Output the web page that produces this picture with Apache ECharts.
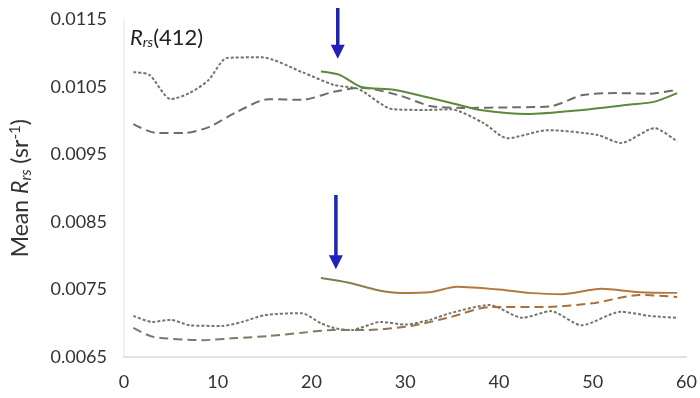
<!DOCTYPE html>
<html>
<head>
<meta charset="utf-8">
<script src="https://cdn.jsdelivr.net/npm/echarts@6/dist/echarts.min.js"></script>
<style>html,body{margin:0;padding:0;background:#fff;}#c{width:700px;height:398px;}</style>
</head>
<body>
<div id="c"></div>
<script>
// x ticks
const xTicks = [0, 10, 20, 30, 40, 50, 60];
const yTicks = [0.0065, 0.0075, 0.0085, 0.0095, 0.0105, 0.0115];

// upper group (green)
const upSolidX = [21, 23, 25.3, 28.8, 32.6, 35, 38, 43, 48.9, 54, 56.5, 59];
const upSolidY = [0.01073, 0.01068, 0.01050, 0.01046, 0.01034, 0.01026, 0.01016, 0.01010, 0.01016, 0.01024, 0.01028, 0.01041];
const upDashX = [1, 3.4, 6.6, 9.1, 11.9, 15.4, 19, 22.4, 25.3, 29.5, 32.6, 36, 41.9, 45.4, 48.9, 52.5, 56, 59];
const upDashY = [0.00995, 0.00982, 0.00982, 0.00991, 0.01012, 0.01032, 0.01031, 0.01043, 0.01049, 0.01037, 0.01022, 0.01019, 0.01020, 0.01021, 0.01038, 0.01041, 0.01040, 0.01046];
const upDotX = [1, 2.7, 5, 7, 9, 11, 14.7, 19, 22.4, 25, 28.7, 32.4, 34.8, 38.3, 40.9, 45.2, 50.5, 53, 56.6, 59];
const upDotY = [0.01072, 0.01068, 0.01032, 0.01041, 0.01060, 0.01093, 0.01094, 0.01072, 0.01053, 0.01047, 0.01017, 0.01016, 0.01017, 0.00997, 0.00974, 0.00986, 0.00979, 0.00967, 0.00989, 0.00969];

// lower group (orange)
const loSolidX = [21, 24, 27.1, 29.5, 32.6, 35.5, 40.7, 43.2, 46.7, 50.9, 55, 59];
const loSolidY = [0.00767, 0.00760, 0.00749, 0.00745, 0.00746, 0.00754, 0.00749, 0.00745, 0.00743, 0.00751, 0.00746, 0.00745];
const loDashX = [1, 3.1, 8.4, 11.9, 15.4, 19, 22.4, 26, 30.6, 34.8, 39, 45, 50.2, 55, 59];
const loDashY = [0.00693, 0.00680, 0.00675, 0.00678, 0.00681, 0.00686, 0.00690, 0.00690, 0.00696, 0.00709, 0.00724, 0.00724, 0.00730, 0.00742, 0.00739];
const loDotX = [1, 3, 5, 7, 10.5, 12.6, 15, 18.9, 21, 22.4, 24.2, 27.4, 30, 32.6, 34.8, 39, 42.5, 45.5, 48.8, 53, 56, 59];
const loDotY = [0.00711, 0.00702, 0.00705, 0.00697, 0.00696, 0.00702, 0.00712, 0.00715, 0.00700, 0.00693, 0.00690, 0.00702, 0.00698, 0.00705, 0.00715, 0.00727, 0.00708, 0.00718, 0.00697, 0.00717, 0.00711, 0.00708];

// arrows (data coords)
const arrowX = [22.8, 22.6];
const arrowTop = [0.01167, 0.00890];
const arrowTip = [0.01092, 0.00780];

function pairs(xs, ys) { return xs.map((x, i) => [x, ys[i]]); }

const chart = echarts.init(document.getElementById('c'), null, {renderer: 'canvas'});
const font = 'Lato';

function lineSeries(xs, ys, color, type, extra) {
  return Object.assign({
    type: 'line',
    data: pairs(xs, ys),
    smooth: 0.25,
    showSymbol: false,
    symbol: 'none',
    silent: true,
    clip: false,
    lineStyle: {color: color, width: 2, type: type},
    z: 3
  }, extra || {});
}

const option = {
  animation: false,
  backgroundColor: '#ffffff',
  grid: {left: 120, right: 10, top: 19.5, bottom: 41},
  graphic: [{
    type: 'text',
    left: 130,
    top: 27,
    style: {
      rich: {
        i: {fontFamily: font, fontStyle: 'italic', fontSize: 22, fill: '#222'},
        s: {fontFamily: font, fontStyle: 'italic', fontSize: 14, fill: '#222', padding: [9, 0, 0, 0]},
        n: {fontFamily: font, fontSize: 22, fill: '#222'}
      },
      text: '{i|R}{s|rs}{n|(412)}'
    }
  }],
  xAxis: {
    type: 'value',
    min: 0, max: 60, interval: 10,
    axisLine: {show: true, lineStyle: {color: '#d9d9d9', width: 1.5}},
    axisTick: {show: false},
    splitLine: {show: false},
    axisLabel: {fontFamily: font, fontSize: 18, color: '#333', margin: 16}
  },
  yAxis: {
    type: 'value',
    min: 0.0065, max: 0.0115, interval: 0.001,
    axisLine: {show: true, lineStyle: {color: '#ebebeb', width: 1.5}},
    axisTick: {show: false},
    splitLine: {show: false},
    axisLabel: {fontFamily: font, fontSize: 18, color: '#333', margin: 17,
      formatter: v => v.toFixed(4)},
    name: '{n|Mean }{i|R}{s|rs}{n| (sr}{p|-1}{n|)}',
    nameLocation: 'middle',
    nameRotate: 90,
    nameGap: 90,
    nameTextStyle: {
      rich: {
        n: {fontFamily: font, fontSize: 23, color: '#333'},
        i: {fontFamily: font, fontStyle: 'italic', fontSize: 23, color: '#333'},
        s: {fontFamily: font, fontStyle: 'italic', fontSize: 15, color: '#333', padding: [11, 0, 0, 0]},
        p: {fontFamily: font, fontSize: 15, color: '#333', padding: [0, 0, 11, 0]}
      }
    }
  },
  series: [
    lineSeries(upDotX, upDotY, '#70746a', [3, 2]),
    lineSeries(upDashX, upDashY, '#6c6e68', [9, 5]),
    lineSeries(upSolidX, upSolidY, '#5a8a3c', 'solid'),
    lineSeries(loDotX, loDotY, '#76746e', [3, 2]),
    lineSeries(loDashX, loDashY, {
      type: 'linear', x: 0, y: 0, x2: 1, y2: 0,
      colorStops: [{offset: 0, color: '#7a786c'}, {offset: 0.42, color: '#847a62'}, {offset: 0.6, color: '#a8703e'}, {offset: 1, color: '#a8703e'}]
    }, [9, 5]),
    lineSeries(loSolidX, loSolidY, {
      type: 'linear', x: 0, y: 0, x2: 1, y2: 0,
      colorStops: [{offset: 0, color: '#6a8450'}, {offset: 0.28, color: '#b4783e'}, {offset: 1, color: '#b4783e'}]
    }, 'solid'),
    {
      type: 'custom',
      silent: true,
      clip: false,
      z: 10,
      data: arrowX.map((x, i) => [x, arrowTop[i], arrowTip[i]]),
      encode: {x: 0, y: [1, 2]},
      renderItem: function (params, api) {
        const p1 = api.coord([api.value(0), api.value(1)]);
        const p2 = api.coord([api.value(0), api.value(2)]);
        const headH = 14, headW = 7;
        return {
          type: 'group',
          children: [
            {type: 'line', shape: {x1: p1[0], y1: p1[1], x2: p2[0], y2: p2[1] - headH + 2},
             style: {stroke: '#1f22b4', lineWidth: 3.5}},
            {type: 'polygon', shape: {points: [[p2[0] - headW, p2[1] - headH], [p2[0] + headW, p2[1] - headH], [p2[0], p2[1]]]},
             style: {fill: '#1f22b4'}}
          ]
        };
      }
    }
  ]
};
chart.setOption(option);
</script>
</body>
</html>
